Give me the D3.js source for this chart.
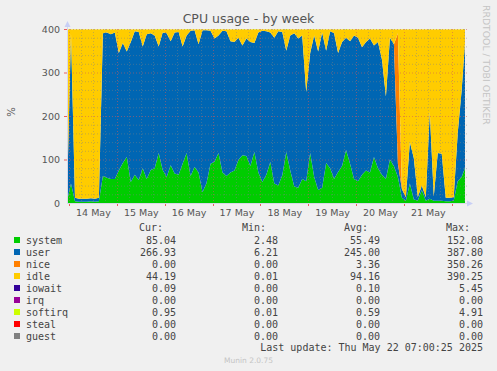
<!DOCTYPE html>
<html>
<head>
<meta charset="utf-8">
<script src="https://cdn.jsdelivr.net/npm/d3@7"></script>
<style>
  body { margin: 0; background: #f0f0f0; }
  svg { display: block; }
</style>
</head>
<body>
<div id="chart"></div>
<script>
// legend
const seriesNames = ["system", "user", "nice", "idle", "iowait", "irq", "softirq", "steal", "guest"];
const seriesColors = ["#00CC00", "#0066B3", "#FF8000", "#FFCC00", "#330099", "#990099", "#CCFF00", "#FF0000", "#808080"];
const curVals = ["85.04", "266.93", "0.00", "44.19", "0.09", "0.00", "0.95", "0.00", "0.00"];
const minVals = ["2.48", "6.21", "0.00", "0.01", "0.00", "0.00", "0.01", "0.00", "0.00"];
const avgVals = ["55.49", "245.00", "3.36", "94.16", "0.10", "0.00", "0.59", "0.00", "0.00"];
const maxVals = ["152.08", "387.80", "350.26", "390.25", "5.45", "0.00", "4.91", "0.00", "0.00"];

const yTicks = [0, 100, 200, 300, 400];
const xTickLabels = ["14 May", "15 May", "16 May", "17 May", "18 May", "19 May", "20 May", "21 May"];

// samples every 2 hours from 13 May 23:00 UTC
const startTime = Date.UTC(2025, 4, 13, 23, 0);
const stepHours = 2;

const system = [4, 45, 4, 3, 3, 3, 4, 3, 4,
  62, 58, 55, 55, 75, 92, 106, 48, 65, 53,
  80, 55, 76, 80, 115, 76, 60, 87, 68, 65,
  90, 115, 62, 83, 70, 25, 46, 90, 95, 115,
  70, 62, 70, 75, 99, 110, 108, 85, 117, 70,
  48, 65, 94, 45, 40, 64, 117, 75, 38, 35,
  55, 50, 115, 60, 30, 35, 92, 80, 55, 71,
  85, 122, 90, 55, 50, 65, 75, 70, 106, 80,
  65, 55, 100, 85, 60, 12, 5, 45, 8, 6,
  30, 5, 10, 5, 5, 5, 4, 4, 5, 50, 60, 85];
const user = [8, 345, 8, 7, 7, 7, 7, 7, 8,
  328, 334, 333, 337, 270, 276, 242, 322, 330, 340,
  280, 333, 314, 305, 245, 316, 330, 285, 324, 328,
  270, 270, 334, 314, 295, 372, 351, 306, 283, 270,
  326, 333, 302, 295, 281, 252, 270, 285, 251, 322,
  348, 330, 298, 335, 355, 329, 233, 310, 352, 343,
  330, 205, 230, 325, 318, 357, 258, 315, 335, 274,
  285, 258, 282, 330, 330, 293, 295, 308, 256, 290,
  265, 190, 280, 280, 30, 20, 8, 95, 95, 8,
  10, 8, 200, 10, 110, 108, 8, 8, 8, 110, 200, 305];
const nice = [0, 0, 0, 0, 0, 0, 0, 0, 0,
  0, 0, 0, 0, 0, 0, 0, 0, 0, 0,
  0, 0, 0, 0, 0, 0, 0, 0, 0, 0,
  0, 0, 0, 0, 0, 0, 0, 0, 0, 0,
  0, 0, 0, 0, 0, 0, 0, 0, 0, 0,
  0, 0, 0, 0, 0, 0, 0, 0, 0, 0,
  0, 0, 0, 0, 0, 0, 0, 0, 0, 0,
  0, 0, 0, 0, 0, 0, 0, 0, 0, 0,
  0, 0, 0, 0, 300, 0, 0, 0, 0, 0,
  0, 0, 0, 0, 0, 0, 0, 0, 0, 0, 0, 0];
const idle = [387, 9, 387, 389, 389, 389, 388, 389, 387,
  9, 7, 11, 7, 54, 31, 51, 29, 4, 6,
  39, 11, 9, 14, 39, 7, 9, 27, 7, 6,
  39, 14, 3, 2, 34, 2, 2, 3, 21, 14,
  3, 4, 27, 29, 19, 37, 21, 29, 31, 7,
  3, 4, 7, 19, 4, 6, 49, 14, 9, 21,
  14, 144, 54, 14, 51, 7, 49, 4, 9, 54,
  29, 19, 27, 14, 19, 41, 29, 21, 37, 29,
  69, 154, 19, 34, 9, 367, 386, 259, 296, 385,
  359, 386, 189, 384, 284, 286, 387, 387, 386, 239, 139, 9];
const softirq = [0.4, 0.6, 0.3, 0.3, 0.3, 0.3, 0.3, 0.3, 0.3,
  0.7, 0.6, 0.6, 0.7, 0.6, 0.8, 0.7, 0.6, 0.6, 0.7,
  0.6, 0.7, 0.6, 0.7, 0.8, 0.6, 0.6, 0.7, 0.6, 0.6,
  0.7, 0.8, 0.6, 0.6, 0.7, 0.5, 0.6, 0.7, 0.7, 0.8,
  0.6, 0.6, 0.7, 0.6, 0.7, 0.8, 0.7, 0.7, 0.8, 0.6,
  0.6, 0.6, 0.7, 0.6, 0.5, 0.6, 0.8, 0.6, 0.5, 0.5,
  0.6, 0.6, 0.8, 0.6, 0.5, 0.5, 0.7, 0.7, 0.6, 0.6,
  0.7, 0.8, 0.7, 0.6, 0.6, 0.6, 0.7, 0.6, 0.7, 0.7,
  0.6, 0.6, 0.7, 0.7, 0.6, 0.3, 0.3, 0.4, 0.3, 0.3,
  0.4, 0.3, 0.4, 0.3, 0.3, 0.3, 0.3, 0.3, 0.3, 0.4, 0.5, 0.95];

const W = 497, H = 371;
const margin = { top: 29, right: 32, bottom: 168, left: 67 };
const plotW = 398, plotH = 174;

const svg = d3.select("#chart").append("svg")
  .attr("width", W).attr("height", H)
  .style("font-family", "DejaVu Sans, sans-serif");

svg.append("rect").attr("width", W).attr("height", H).attr("fill", "#f0f0f0");

const table = system.map((d, i) => ({
  time: new Date(startTime + i * stepHours * 3600 * 1000),
  system: d, user: user[i], nice: nice[i], idle: idle[i], softirq: softirq[i]
}));

const x = d3.scaleUtc()
  .domain([new Date(Date.UTC(2025, 4, 13, 23, 0)), new Date(Date.UTC(2025, 4, 22, 6, 40))])
  .range([margin.left, margin.left + plotW]);
const y = d3.scaleLinear().domain([0, 400]).range([margin.top + plotH, margin.top]);

const stackKeys = ["system", "user", "nice", "idle", "softirq"];
const stacked = d3.stack().keys(stackKeys)(table);
const color = d3.scaleOrdinal().domain(seriesNames).range(seriesColors);

svg.append("clipPath").attr("id", "plot-clip")
  .append("rect")
  .attr("x", margin.left).attr("y", margin.top - 1)
  .attr("width", plotW).attr("height", plotH + 1);

svg.append("rect")
  .attr("x", margin.left).attr("y", margin.top)
  .attr("width", plotW).attr("height", plotH)
  .attr("fill", "#ffffff");

const area = d3.area()
  .x((d) => x(d.data.time))
  .y0((d) => y(d[0]))
  .y1((d) => y(d[1]));

svg.append("g").attr("clip-path", "url(#plot-clip)")
  .selectAll("path")
  .data(stacked)
  .enter()
  .append("path")
  .attr("d", area)
  .attr("fill", (d) => color(d.key));

// grid lines (drawn over the areas, like rrdtool)
const grid = svg.append("g");
const y0px = y(0), y400px = y(400);
d3.range(20, 401, 20).forEach((v) => {
  const major = v % 100 === 0;
  grid.append("line")
    .attr("x1", margin.left).attr("x2", margin.left + plotW + 2)
    .attr("y1", y(v) + 0.5).attr("y2", y(v) + 0.5)
    .attr("stroke", major ? "rgba(210,90,90,0.55)" : "rgba(130,130,130,0.45)")
    .attr("stroke-dasharray", "1,2");
  if (major) {
    grid.append("line")
      .attr("x1", margin.left - 3).attr("x2", margin.left)
      .attr("y1", y(v) + 0.5).attr("y2", y(v) + 0.5)
      .attr("stroke", "rgba(230,60,60,0.8)");
  }
});
const sixHours = d3.utcHour.every(6).range(x.domain()[0], x.domain()[1]);
sixHours.forEach((t) => {
  const major = t.getUTCHours() === 0;
  grid.append("line")
    .attr("x1", Math.round(x(t)) + 0.5).attr("x2", Math.round(x(t)) + 0.5)
    .attr("y1", y400px).attr("y2", y0px)
    .attr("stroke", major ? "rgba(210,90,90,0.55)" : "rgba(130,130,130,0.45)")
    .attr("stroke-dasharray", "1,2");
  if (major) {
    grid.append("line")
      .attr("x1", Math.round(x(t)) + 0.5).attr("x2", Math.round(x(t)) + 0.5)
      .attr("y1", y0px).attr("y2", y0px + 3)
      .attr("stroke", "rgba(230,60,60,0.8)");
  }
});

// axis lines and arrows
svg.append("line")
  .attr("x1", margin.left).attr("x2", margin.left + plotW + 4)
  .attr("y1", y0px + 0.5).attr("y2", y0px + 0.5)
  .attr("stroke", "#d8d8e8");
svg.append("line")
  .attr("x1", margin.left + 0.5).attr("x2", margin.left + 0.5)
  .attr("y1", y0px).attr("y2", y400px - 5)
  .attr("stroke", "#d8d8e8");
svg.append("path")
  .attr("d", `M${margin.left + plotW + 2},${y0px - 2.5}L${margin.left + plotW + 8},${y0px + 0.5}L${margin.left + plotW + 2},${y0px + 3.5}Z`)
  .attr("fill", "#c8cff5");
svg.append("path")
  .attr("d", `M${margin.left - 2.5},${y400px - 2}L${margin.left + 0.5},${y400px - 8}L${margin.left + 3.5},${y400px - 2}Z`)
  .attr("fill", "#c8cff5");

// axes
const noonTicks = xTickLabels.map((d, i) => new Date(Date.UTC(2025, 4, 14 + i, 12)));
const xAxis = svg.append("g")
  .attr("transform", "translate(0," + (y0px + 2) + ")")
  .call(d3.axisBottom(x).tickValues(noonTicks).tickSize(0).tickPadding(4)
    .tickFormat((d, i) => xTickLabels[i]));
xAxis.select(".domain").remove();
xAxis.selectAll("text")
  .style("font-family", "DejaVu Sans")
  .style("font-size", "9.5px")
  .attr("fill", "#555");

const yAxis = svg.append("g")
  .attr("transform", "translate(" + (margin.left - 3) + ",0)")
  .call(d3.axisLeft(y).tickValues(yTicks).tickSize(0).tickPadding(4));
yAxis.select(".domain").remove();
yAxis.selectAll("text")
  .style("font-family", "DejaVu Sans")
  .style("font-size", "9.5px")
  .attr("fill", "#555");

// titles
svg.append("text")
  .attr("x", 248.5).attr("y", 23)
  .attr("text-anchor", "middle")
  .style("font-size", "12.5px")
  .attr("fill", "#555")
  .text("CPU usage - by week");

svg.append("text")
  .attr("transform", "translate(15,112) rotate(-90)")
  .attr("text-anchor", "middle")
  .style("font-size", "10px")
  .attr("fill", "#555")
  .text("%");

svg.append("text")
  .attr("transform", "translate(483,5) rotate(90)")
  .style("font-size", "9.3px")
  .attr("fill", "#c4c4c4")
  .text("RRDTOOL / TOBI OETIKER");

// legend
const legend = svg.append("g")
  .style("font-family", "DejaVu Sans Mono, monospace")
  .style("font-size", "10px")
  .attr("fill", "#444");

const headers = [["Cur:", 163], ["Min:", 266], ["Avg:", 368], ["Max:", 470]];
headers.forEach(([t, xr]) => {
  legend.append("text").attr("x", xr).attr("y", 230.5)
    .attr("text-anchor", "end").text(t);
});

const valueCols = [[curVals, 176], [minVals, 278], [avgVals, 380], [maxVals, 483]];
seriesNames.forEach((name, i) => {
  const rowY = 240 + i * 12;
  legend.append("rect")
    .attr("x", 14).attr("y", rowY - 3)
    .attr("width", 6).attr("height", 6)
    .attr("fill", seriesColors[i]);
  legend.append("text").attr("x", 26).attr("y", rowY + 3.5).text(name);
  valueCols.forEach(([vals, xr]) => {
    legend.append("text").attr("x", xr).attr("y", rowY + 3.5)
      .attr("text-anchor", "end").text(vals[i]);
  });
});

legend.append("text").attr("x", 483).attr("y", 351)
  .attr("text-anchor", "end")
  .text("Last update: Thu May 22 07:00:25 2025");

svg.append("text")
  .attr("x", 248.5).attr("y", 363)
  .attr("text-anchor", "middle")
  .style("font-size", "7.5px")
  .attr("fill", "#c4c4c4")
  .text("Munin 2.0.75");
</script>
</body>
</html>
